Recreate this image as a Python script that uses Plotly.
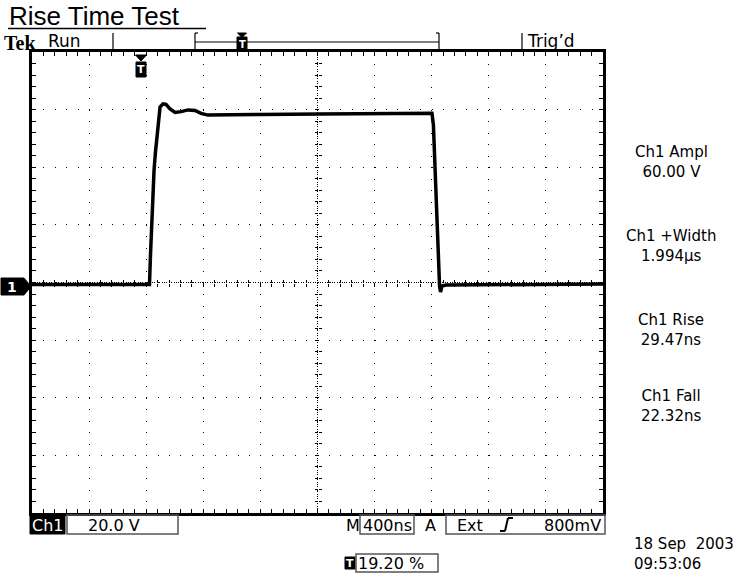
import plotly.graph_objects as go

# ---------------- data ----------------
TIME_US = [0.000, 0.823, 0.830, 0.837, 0.844, 0.855, 0.865, 0.876, 0.886, 0.897,
           0.918, 0.939, 0.967, 1.002, 1.044, 1.093, 1.142, 1.184, 1.233, 1.317,
           1.597, 2.017, 2.438, 2.788, 2.802, 2.812, 2.819, 2.826, 2.833, 2.840,
           2.847, 2.855, 2.862, 2.872, 2.900, 3.419, 4.000]
VOLTS = [-0.7, -0.7, 9.5, 20.0, 30.4, 39.0, 45.3, 51.2, 58.1, 60.9,
         62.0, 61.8, 60.2, 59.0, 59.3, 59.9, 59.7, 58.7, 58.1, 58.1,
         58.3, 58.5, 58.7, 58.8, 58.7, 54.7, 46.0, 35.6, 23.4, 13.0,
         4.3, -1.2, -3.3, -1.2, -0.9, -0.7, -0.5]

TITLE = "Rise Time Test"
MEAS_LABELS = ["Ch1 Ampl", "Ch1 +Width", "Ch1 Rise", "Ch1 Fall"]
MEAS_VALUES = ["60.00 V", "1.994µs", "29.47ns", "22.32ns"]
CH1_SCALE = "20.0 V"
TIMEBASE = "400ns"
TRIG_SOURCE = "Ext"
TRIG_LEVEL = "800mV"
TRIG_POS = "19.20 %"
DATE_TEXT = "18 Sep  2003"
TIME_TEXT = "09:53:06"

TIME_DIV_US = 0.4
VOLT_DIV = 20.0
N_HDIV, N_VDIV = 10, 8

# ---------------- geometry helpers ----------------
W_FIG, H_FIG = 737, 577
L, R, T, B = 32, 603, 52, 513
PW, PH = R - L, B - T


def px(x):
    return (x - L) / PW


def py(y):
    return (B - y) / PH


shapes = []
annotations = []


def line(x0, y0, x1, y1, w=1.5, color="black"):
    shapes.append(dict(type="line", xref="paper", yref="paper",
                       x0=px(x0), y0=py(y0), x1=px(x1), y1=py(y1),
                       line=dict(color=color, width=w)))


def rect(x0, y0, x1, y1, fill=None, lw=1.5, lc="#555555"):
    shapes.append(dict(type="rect", xref="paper", yref="paper",
                       x0=px(x0), y0=py(y0), x1=px(x1), y1=py(y1),
                       fillcolor=fill if fill else "rgba(0,0,0,0)",
                       line=dict(color=lc, width=lw)))


def path(points, fill="black"):
    d = "M " + " L ".join(f"{px(a):.5f},{py(b):.5f}" for a, b in points) + " Z"
    shapes.append(dict(type="path", xref="paper", yref="paper", path=d,
                       fillcolor=fill, line=dict(color=fill, width=1)))


def text(s, x, y, size=16, color="black", xanchor="center", family="DejaVu Sans"):
    annotations.append(dict(text=s, x=px(x), y=py(y), xref="paper", yref="paper",
                            xanchor=xanchor, yanchor="middle", showarrow=False,
                            borderpad=0,
                            align=xanchor if xanchor != "center" else "center",
                            font=dict(family=family, size=size, color=color)))


def t_icon(cx, y0, y1, size=11):
    rect(cx - 5, y0, cx + 5, y1, fill="black", lw=1, lc="black")
    text("<b>T</b>", cx, (y0 + y1) / 2 + 0.5, size=size, color="white")


# ---------------- figure ----------------
fig = go.Figure()
fig.add_trace(go.Scatter(x=TIME_US, y=VOLTS, mode="lines",
                         line=dict(color="black", width=3.5),
                         hoverinfo="skip", showlegend=False))
for xa, ya in (("x2", "y2"), ("x3", "y3")):
    fig.add_trace(go.Scatter(x=[], y=[], xaxis=xa, yaxis=ya, showlegend=False))

x_range = [0, N_HDIV * TIME_DIV_US]
y_range = [-N_VDIV / 2 * VOLT_DIV, N_VDIV / 2 * VOLT_DIV]
sub_x = PW / N_HDIV / 5
sub_y = PH / N_VDIV / 5

common = dict(showticklabels=False, zeroline=False, fixedrange=True)

fig.update_layout(
    width=W_FIG, height=H_FIG,
    margin=dict(l=L, r=W_FIG - R, t=T, b=H_FIG - B),
    paper_bgcolor="white", plot_bgcolor="white",
    showlegend=False,
    xaxis=dict(range=x_range, dtick=TIME_DIV_US, tick0=0, showgrid=True,
               gridcolor="black", gridwidth=1, griddash=f"1px,{sub_y - 1:.3f}px",
               showline=True, linecolor="black", linewidth=3, mirror="allticks",
               ticks="inside", ticklen=4, tickcolor="black", tickwidth=1,
               minor=dict(dtick=TIME_DIV_US / 5, ticks="inside", ticklen=4,
                          tickcolor="black", showgrid=False), **common),
    yaxis=dict(range=y_range, dtick=VOLT_DIV, tick0=0, showgrid=True,
               gridcolor="black", gridwidth=1, griddash=f"1px,{sub_x - 1:.3f}px",
               showline=True, linecolor="black", linewidth=3, mirror="allticks",
               ticks="inside", ticklen=4, tickcolor="black", tickwidth=1,
               minor=dict(dtick=VOLT_DIV / 5, ticks="inside", ticklen=4,
                          tickcolor="black", showgrid=False), **common),
    # centre cross: dense dotted line + small ticks both sides
    xaxis2=dict(overlaying="x", anchor="free", position=0.5, range=x_range,
                dtick=N_HDIV / 2 * TIME_DIV_US, tick0=0, showgrid=True,
                gridcolor="black", gridwidth=1, griddash="1px,1.4px",
                showline=False, ticks="",
                minor=dict(dtick=TIME_DIV_US / 5, ticks="outside", ticklen=3,
                           tickcolor="black", showgrid=False), **common),
    yaxis2=dict(overlaying="y", anchor="free", position=0.5, range=y_range,
                dtick=N_VDIV / 2 * VOLT_DIV, tick0=y_range[0], showgrid=True,
                gridcolor="black", gridwidth=1, griddash="1px,1.4px",
                showline=False, ticks="",
                minor=dict(dtick=VOLT_DIV / 5, ticks="outside", ticklen=3,
                           tickcolor="black", showgrid=False), **common),
    xaxis3=dict(overlaying="x", anchor="free", position=0.5, range=x_range,
                showgrid=False, showline=False, ticks="", dtick=TIME_DIV_US,
                minor=dict(dtick=TIME_DIV_US / 5, ticks="inside", ticklen=3,
                           tickcolor="black", showgrid=False), **common),
    yaxis3=dict(overlaying="y", anchor="free", position=0.5, range=y_range,
                showgrid=False, showline=False, ticks="", dtick=VOLT_DIV,
                minor=dict(dtick=VOLT_DIV / 5, ticks="inside", ticklen=3,
                           tickcolor="black", showgrid=False), **common),
)

# ---------------- title ----------------
text(TITLE, 8, 15.5, size=26, xanchor="left", family="Liberation Sans")
line(8, 28.5, 206, 28.5, w=1.5)

# ---------------- top status bar ----------------
text("<b>Tek</b>", 3, 43, size=20, xanchor="left", family="Liberation Serif")
text("Run", 47, 41, size=17, xanchor="left")
line(113, 33, 113, 51, w=1.2)
line(195, 33, 195, 51, w=1.2)
line(195, 33, 198, 33, w=1.2)
line(195, 42, 439, 42, w=1.2)
line(439, 33, 439, 51, w=1.2)
line(436, 33, 439, 33, w=1.2)
path([(237.5, 33), (246.5, 33), (242, 37.5)])
t_icon(242, 37, 50, size=10)
line(522, 33, 522, 52, w=1.2)
text("Trig’d", 526, 41, size=17, xanchor="left")

# trigger position marker under top frame
path([(135.5, 55), (146.5, 55), (141, 61)])
t_icon(141, 62, 77)

# channel 1 ground marker
path([(1, 278), (24, 278), (31, 286.5), (24, 295), (1, 295)])
text("<b>1</b>", 12, 287, size=14, color="white")

# ---------------- measurement readouts ----------------
for lab, val, yc in zip(MEAS_LABELS, MEAS_VALUES, [162, 246, 330, 406]):
    text(f"{lab}<br>{val}", 671, yc, size=15)

# ---------------- bottom status ----------------
rect(30, 515, 65, 534, fill="black", lw=1, lc="black")
text("Ch1", 47.5, 525, size=16, color="white")
rect(67, 515, 178, 534)
text(CH1_SCALE, 114, 525, size=16)

text("M", 353, 525, size=16)
rect(360, 515, 414, 534)
text(TIMEBASE, 387, 525, size=16)

text("A", 430, 525, size=16)
rect(446, 515, 605, 534)
text(TRIG_SOURCE, 470, 525, size=16)
# rising-slope symbol
line(500, 531, 505, 531, w=2)
line(505, 531, 508, 518, w=2)
line(508, 518, 513, 518, w=2)
text(TRIG_LEVEL, 572, 525, size=16)

t_icon(350, 557, 569)
rect(356, 554, 438, 572)
text(TRIG_POS, 391, 563, size=16)

text(f"{DATE_TEXT}<br>{TIME_TEXT}", 633, 554, size=15, xanchor="left")

fig.update_layout(shapes=shapes, annotations=annotations)
fig.write_html("out.html",
               config={"displayModeBar": False},
               post_script="document.body.style.margin='0';"
                           "document.body.style.overflow='hidden';")
